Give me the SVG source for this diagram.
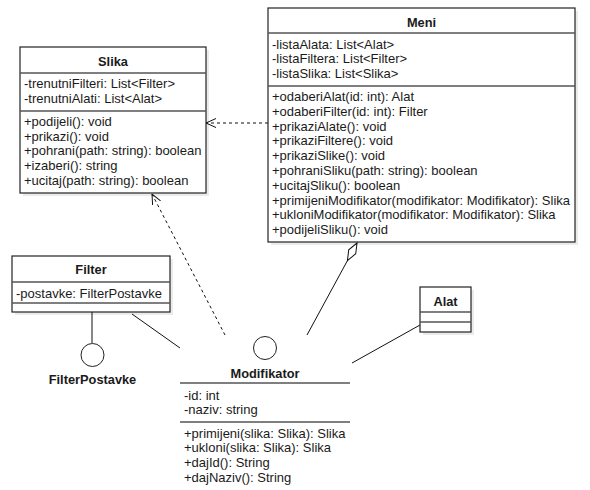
<svg xmlns="http://www.w3.org/2000/svg" width="590" height="490" viewBox="0 0 590 490">
<style>
text{font-family:"Liberation Sans",Arial,sans-serif;font-size:13px;fill:#1a1a1a}
.t{font-weight:bold;text-anchor:middle;font-size:12.8px}
.box{fill:#fff;stroke:#222;stroke-width:1.2}
.sh{fill:#000;opacity:0.08}
.sep{stroke:#555;stroke-width:1.3}
.ln{stroke:#111;stroke-width:1;fill:none}
.dash{stroke:#111;stroke-width:1;fill:none;stroke-dasharray:3 3}
.ci{fill:#fff;stroke:#222;stroke-width:1}
</style>
<defs>
<marker id="open" viewBox="0 0 10 10" refX="10" refY="5" markerWidth="10" markerHeight="10" markerUnits="userSpaceOnUse" orient="auto">
<path d="M0,0.5 L10,5 L0,9.5" fill="none" stroke="#111" stroke-width="1"/>
</marker>
<marker id="dia" viewBox="-1 -1 22 12" refX="0" refY="5" markerWidth="22" markerHeight="12" markerUnits="userSpaceOnUse" orient="auto">
<path d="M0,5 L10,1 L20,5 L10,9 Z" fill="#fff" stroke="#111" stroke-width="1"/>
</marker>
</defs>
<g id="connectors">
<path class="dash" d="M268,123 L206,123" marker-end="url(#open)"/>
<path class="dash" d="M225,335 L152,194" marker-end="url(#open)"/>
<path class="ln" d="M357,243 L307,335" marker-start="url(#dia)"/>
<path class="ln" d="M132,314 L180,348"/>
<path class="ln" d="M352,363 L420,325"/>
<path class="ln" d="M92,312 L92,343"/>
</g>
<g id="slika">
<rect class="sh" x="23" y="50" width="186" height="146"/>
<rect class="box" x="20" y="47" width="186" height="146"/>
<line class="sep" x1="20" y1="73" x2="206" y2="73"/>
<line class="sep" x1="20" y1="111" x2="206" y2="111"/>
<text class="t" x="113" y="65.5">Slika</text>
<text x="24" y="88">-trenutniFilteri: List&lt;Filter&gt;</text>
<text x="24" y="102.7">-trenutniAlati: List&lt;Alat&gt;</text>
<text x="24" y="126">+podijeli(): void</text>
<text x="24" y="140.7">+prikazi(): void</text>
<text x="24" y="155.4">+pohrani(path: string): boolean</text>
<text x="24" y="170.1">+izaberi(): string</text>
<text x="24" y="184.8">+ucitaj(path: string): boolean</text>
</g>
<g id="meni">
<rect class="sh" x="271" y="11" width="307" height="234"/>
<rect class="box" x="268" y="8" width="307" height="234"/>
<line class="sep" x1="268" y1="33" x2="575" y2="33"/>
<line class="sep" x1="268" y1="86" x2="575" y2="86"/>
<text class="t" x="421.5" y="26.5">Meni</text>
<text x="272" y="48.5">-listaAlata: List&lt;Alat&gt;</text>
<text x="272" y="63">-listaFiltera: List&lt;Filter&gt;</text>
<text x="272" y="77.5">-listaSlika: List&lt;Slika&gt;</text>
<text x="272" y="101">+odaberiAlat(id: int): Alat</text>
<text x="272" y="115.8">+odaberiFilter(id: int): Filter</text>
<text x="272" y="130.6">+prikaziAlate(): void</text>
<text x="272" y="145.3">+prikaziFiltere(): void</text>
<text x="272" y="160.1">+prikaziSlike(): void</text>
<text x="272" y="174.9">+pohraniSliku(path: string): boolean</text>
<text x="272" y="189.7">+ucitajSliku(): boolean</text>
<text x="272" y="204.5">+primijeniModifikator(modifikator: Modifikator): Slika</text>
<text x="272" y="219.2">+ukloniModifikator(modifikator: Modifikator): Slika</text>
<text x="272" y="234">+podijeliSliku(): void</text>
</g>
<g id="filter">
<rect class="sh" x="15" y="259" width="158" height="56"/>
<rect class="box" x="12" y="256" width="158" height="56"/>
<line class="sep" x1="12" y1="282" x2="170" y2="282"/>
<line class="sep" x1="12" y1="303" x2="170" y2="303"/>
<text class="t" x="91" y="273.5">Filter</text>
<text x="16" y="298">-postavke: FilterPostavke</text>
</g>
<g id="filterpostavke">
<circle class="ci" cx="92.5" cy="355" r="11.5"/>
<text class="t" x="92.5" y="384">FilterPostavke</text>
</g>
<g id="alat">
<rect class="sh" x="423" y="290" width="51" height="45"/>
<rect class="box" x="420" y="287" width="51" height="45"/>
<line class="sep" x1="420" y1="312" x2="471" y2="312"/>
<line class="sep" x1="420" y1="322" x2="471" y2="322"/>
<text class="t" x="445.5" y="306">Alat</text>
</g>
<g id="modifikator">
<circle class="ci" cx="265" cy="348" r="11.5"/>
<text class="t" x="265" y="377.5">Modifikator</text>
<line class="sep" x1="180" y1="383" x2="350" y2="383"/>
<line class="sep" x1="180" y1="422" x2="350" y2="422"/>
<text x="184" y="399.5">-id: int</text>
<text x="184" y="414">-naziv: string</text>
<text x="184" y="437.5">+primijeni(slika: Slika): Slika</text>
<text x="184" y="452">+ukloni(slika: Slika): Slika</text>
<text x="184" y="467">+dajId(): String</text>
<text x="184" y="481.5">+dajNaziv(): String</text>
</g>
</svg>
